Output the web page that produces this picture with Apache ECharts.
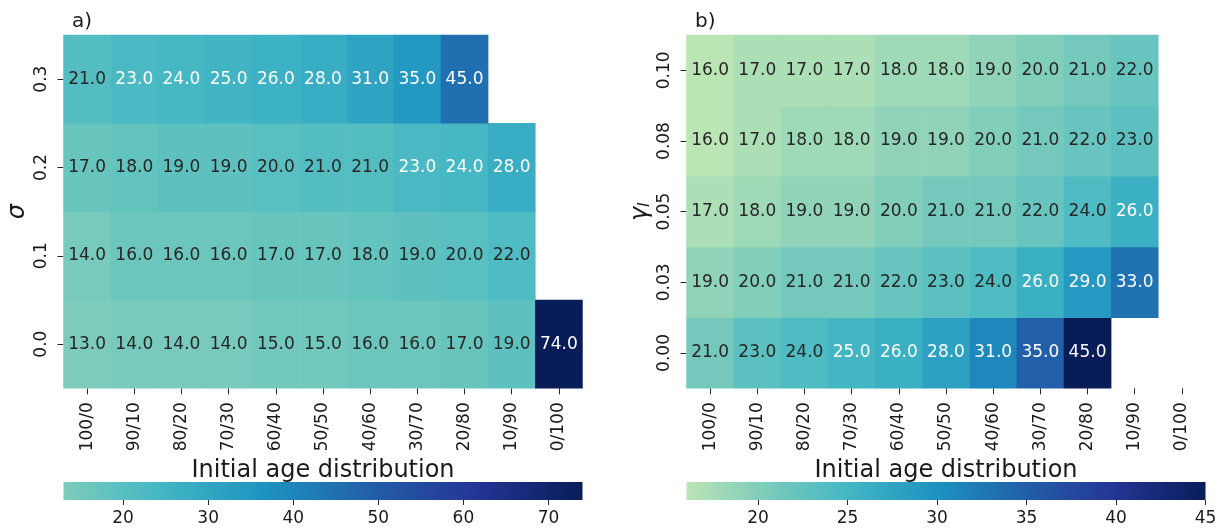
<!DOCTYPE html>
<html><head><meta charset="utf-8">
<script src="https://cdn.jsdelivr.net/npm/echarts@6/dist/echarts.min.js"></script>
<style>html,body{margin:0;padding:0;background:#fff}#c{width:1225px;height:532px}</style>
</head><body><div id="c"></div>
<script>
// ---------- data ----------
const ageCategories = ['100/0','90/10','80/20','70/30','60/40','50/50','40/60','30/70','20/80','10/90','0/100'];
const sigmaLabels = ['0.0','0.1','0.2','0.3'];
const gammaLabels = ['0.00','0.03','0.05','0.08','0.10'];

// panel a (rows bottom to top: sigma = 0.0, 0.1, 0.2, 0.3)
const sigma00 = [13,14,14,14,15,15,16,16,17,19,74];
const sigma01 = [14,16,16,16,17,17,18,19,20,22];
const sigma02 = [17,18,19,19,20,21,21,23,24,28];
const sigma03 = [21,23,24,25,26,28,31,35,45];

// panel b (rows bottom to top: gamma = 0.00, 0.03, 0.05, 0.08, 0.10)
const gamma000 = [21,23,24,25,26,28,31,35,45];
const gamma003 = [19,20,21,21,22,23,24,26,29,33];
const gamma005 = [17,18,19,19,20,21,21,22,24,26];
const gamma008 = [16,17,18,18,19,19,20,21,22,23];
const gamma010 = [16,17,17,17,18,18,19,20,21,22];

const colorbarARange = [13,74];
const colorbarBRange = [16,45];
const colorbarATicks = [20,30,40,50,60,70];
const colorbarBTicks = [20,25,30,35,40,45];

// ---------- colormap (YlGnBu, truncated) ----------
const YLGNBU = ['#ffffd9','#edf8b1','#c7e9b4','#7fcdbb','#41b6c4','#1d91c0','#225ea8','#253494','#081d58'];
function hex2rgb(h){return [parseInt(h.slice(1,3),16),parseInt(h.slice(3,5),16),parseInt(h.slice(5,7),16)];}
function cmap(t){
  t=Math.max(0,Math.min(1,t));
  const s=t*8; let i=Math.floor(s); if(i>=8)i=7; const f=s-i;
  const a=hex2rgb(YLGNBU[i]), b=hex2rgb(YLGNBU[i+1]);
  return a.map((v,k)=>v+(b[k]-v)*f);
}
function sampleColors(t0,n){
  const out=[];
  for(let k=0;k<n;k++){const c=cmap(t0+(1-t0)*k/(n-1));out.push('rgb('+c.map(Math.round).join(',')+')');}
  return out;
}
const T0A=0.38, T0B=0.27;
const colorsA=sampleColors(T0A,49), colorsB=sampleColors(T0B,49);
function lum(rgb){
  const l=rgb.map(v=>{v/=255;return v<=0.03928?v/12.92:Math.pow((v+0.055)/1.055,2.4);});
  return 0.2126*l[0]+0.7152*l[1]+0.0722*l[2];
}
function buildCells(rows,range,t0){
  const out=[];
  rows.forEach((row,yi)=>row.forEach((v,xi)=>{
    const c=cmap(t0+(1-t0)*(v-range[0])/(range[1]-range[0]));
    out.push({value:[xi,yi,v],label:{color:lum(c)>0.408?'#262626':'#ffffff'}});
  }));
  return out;
}
const cellsA=buildCells([sigma00,sigma01,sigma02,sigma03],colorbarARange,T0A);
const cellsB=buildCells([gamma000,gamma003,gamma005,gamma008,gamma010],colorbarBRange,T0B);

// ---------- chart ----------
const FONT='DejaVu Sans';
const TXT='#1a1a1a';
const FS=17;
const chart=echarts.init(document.getElementById('c'),null,{renderer:'canvas'});

const GA={left:63.5,top:35,width:519,height:353.3};
const GB={left:686.5,top:35,width:519,height:353.3};
const CBA={left:63.5,top:482,width:519,height:18};
const CBB={left:686.5,top:482,width:519,height:18};

function catX(gridIndex){
  return {type:'category',gridIndex,data:ageCategories,
    axisLine:{show:false},
    axisTick:{show:true,alignWithLabel:true,length:6,lineStyle:{color:'#262626',width:1}},
    axisLabel:{rotate:90,margin:14,fontSize:FS,color:TXT,fontFamily:FONT,interval:0},
    splitLine:{show:false},
    name:'Initial age distribution',nameLocation:'middle',nameGap:67,
    nameTextStyle:{fontSize:24,color:TXT,fontFamily:FONT}};
}
function catY(gridIndex,labels,name,rich){
  return {type:'category',gridIndex,data:labels,
    axisLine:{show:false},
    axisTick:{show:true,alignWithLabel:true,length:6,lineStyle:{color:'#262626',width:1}},
    axisLabel:{rotate:90,margin:13,fontSize:FS,color:TXT,fontFamily:FONT},
    splitLine:{show:false},
    name,nameLocation:'middle',nameGap:34,
    nameTextStyle:Object.assign({fontSize:24,color:TXT,fontFamily:FONT,fontStyle:'italic'},rich?{rich}:{})};
}
function cbX(gridIndex,range,ticks){
  return {type:'value',gridIndex,min:range[0],max:range[1],
    axisLine:{show:false},splitLine:{show:false},
    axisTick:{show:true,length:5,customValues:ticks,lineStyle:{color:'#262626'}},
    axisLabel:{customValues:ticks,margin:10,fontSize:FS,color:TXT,fontFamily:FONT}};
}
function cbY(gridIndex){return {type:'value',gridIndex,min:0,max:1,show:false};}
function cbSeries(idx,range,colors){
  return {type:'custom',xAxisIndex:idx,yAxisIndex:idx,silent:true,
    data:[[range[0],range[1]]],
    encode:{x:[0,1]},
    renderItem:(params,api)=>{
      const p0=api.coord([api.value(0),1]);
      const p1=api.coord([api.value(1),0]);
      return {type:'rect',shape:{x:p0[0],y:p0[1],width:p1[0]-p0[0],height:p1[1]-p0[1]},
        style:{fill:new echarts.graphic.LinearGradient(0,0,1,0,colors.map((c,i)=>({offset:i/(colors.length-1),color:c})))}};
    }};
}
function heat(idx,cells){
  return {type:'heatmap',xAxisIndex:idx,yAxisIndex:idx,data:cells,
    label:{show:true,fontSize:FS,fontFamily:FONT,formatter:p=>p.value[2].toFixed(1)},
    itemStyle:{borderWidth:0},
    emphasis:{disabled:true},progressive:0};
}

chart.setOption({
  animation:false,
  backgroundColor:'#fff',
  textStyle:{fontFamily:FONT},
  title:[
    {text:'a)',left:67,top:7,textStyle:{fontSize:20,fontWeight:'normal',color:TXT,fontFamily:FONT}},
    {text:'b)',left:690,top:7,textStyle:{fontSize:20,fontWeight:'normal',color:TXT,fontFamily:FONT}}
  ],
  grid:[GA,GB,CBA,CBB].map(g=>Object.assign({containLabel:false},g)),
  xAxis:[catX(0),catX(1),cbX(2,colorbarARange,colorbarATicks),cbX(3,colorbarBRange,colorbarBTicks)],
  yAxis:[catY(0,sigmaLabels,'σ'),
         catY(1,gammaLabels,'{g|γ}{s|I}',{g:{fontSize:24,fontStyle:'italic',fontFamily:FONT,color:TXT},s:{fontSize:16,fontStyle:'italic',fontFamily:FONT,color:TXT,verticalAlign:'bottom',lineHeight:14}}),
         cbY(2),cbY(3)],
  visualMap:[
    {type:'continuous',show:false,seriesIndex:0,dimension:2,min:colorbarARange[0],max:colorbarARange[1],inRange:{color:colorsA}},
    {type:'continuous',show:false,seriesIndex:1,dimension:2,min:colorbarBRange[0],max:colorbarBRange[1],inRange:{color:colorsB}}
  ],
  series:[heat(0,cellsA),heat(1,cellsB),cbSeries(2,colorbarARange,colorsA),cbSeries(3,colorbarBRange,colorsB)]
});
</script></body></html>
